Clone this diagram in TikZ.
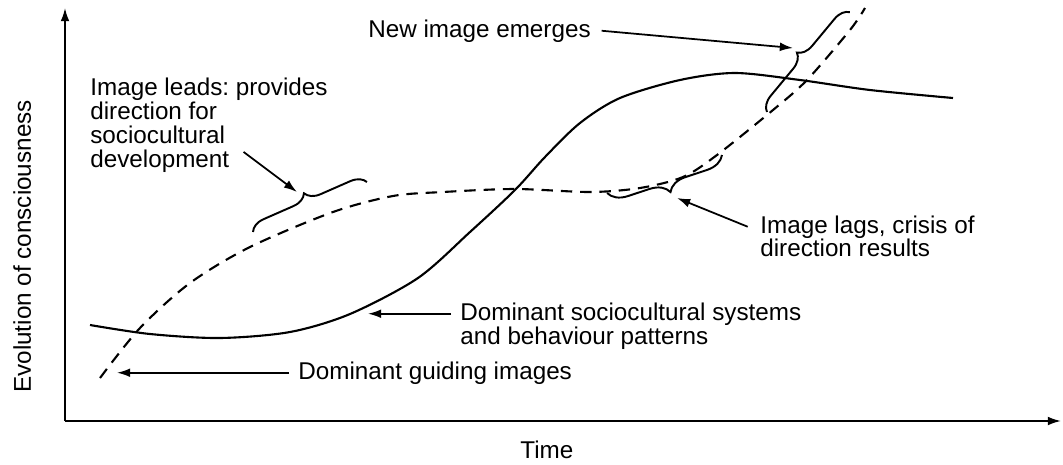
\documentclass[tikz,border=0pt]{standalone}
\usepackage{fontspec}
\setmainfont{Liberation Sans}
\usetikzlibrary{arrows.meta,decorations.pathreplacing}

\begin{document}
\frenchspacing
\begin{tikzpicture}[x=0.02cm,y=-0.02cm,
  txt/.style={anchor=base west,inner sep=0pt,font=\fontsize{13.8}{14}\selectfont},
  arr/.style={-{Latex[length=7.5pt,width=5pt]},line width=1pt},
  solidline/.style={line width=1.2pt},
  dashline/.style={line width=1.2pt,dash pattern=on 6.5pt off 4.5pt},
  bracket/.style={decorate,decoration={brace,amplitude=#1},line width=1.1pt}]
\useasboundingbox (0,0) rectangle (1063,464);

% axes
\coordinate (origin) at (65,421);
\coordinate (ytop) at (65,8);
\coordinate (xend) at (1061,421);
\draw[arr] (origin) -- (ytop);
\draw[arr] (origin) -- (xend);
\node[txt] (time) at (520,458) {Time};
\node[txt,rotate=90] (evol) at (31,393) {Evolution of consciousness};

% sociocultural systems (solid) and guiding images (dashed)
\draw[solidline] plot[smooth] coordinates {(90,325) (150,334) (220,338) (290,332) (350,314) (418,278) (470,232) (515,190) (545,157) (580,123) (620,98) (680,80) (735,73) (800,80) (870,90) (953,98)};
\draw[dashline] plot[smooth] coordinates {(100,378) (140,328) (190,283) (250,247) (333,212) (393,196) (443,192) (515,189) (590,192) (640,188) (683,177) (717,155) (773,110) (807,80) (850,30) (865,8)};

% braces
\draw[bracket=0.3cm] (253,232) -- (367,182); % image leads
\draw[bracket=0.38cm] (722,155) -- (607,193); % image lags
\draw[bracket=0.3cm] (767,112) -- (850,12); % new image

% labels
\node[txt] (emerge) at (368,37) {New image emerges};
\node[txt] (leads1) at (90,95) {Image leads: provides};
\node[txt] (leads2) at (90,119) {direction for};
\node[txt] (leads3) at (90,143) {sociocultural};
\node[txt] (leads4) at (90,167) {development};
\node[txt] (lags1) at (760,233) {Image lags, crisis of};
\node[txt] (lags2) at (760,256) {direction results};
\node[txt] (dom1) at (460,320) {Dominant sociocultural systems};
\node[txt] (dom2) at (460,344) {and behaviour patterns};
\node[txt] (guide) at (298,379) {Dominant guiding images};

% pointers
\coordinate (emergetip) at (793,48);
\coordinate (leadstip) at (297,192);
\coordinate (lagstip) at (677,198);
\coordinate (domtip) at (368,313);
\coordinate (guidetip) at (117,369);
\draw[arr] ([xshift=6pt]emerge.east) -- (emergetip);
\draw[arr] ([xshift=8pt,yshift=5pt]leads4.east) -- (leadstip);
\draw[arr] ([xshift=-7pt]lags1.west) -- (lagstip);
\draw[arr] ([xshift=-5pt]dom1.west) -- (dom1.west -| domtip);
\draw[arr] ([xshift=-5pt]guide.west) -- (guide.west -| guidetip);
\end{tikzpicture}
\end{document}
